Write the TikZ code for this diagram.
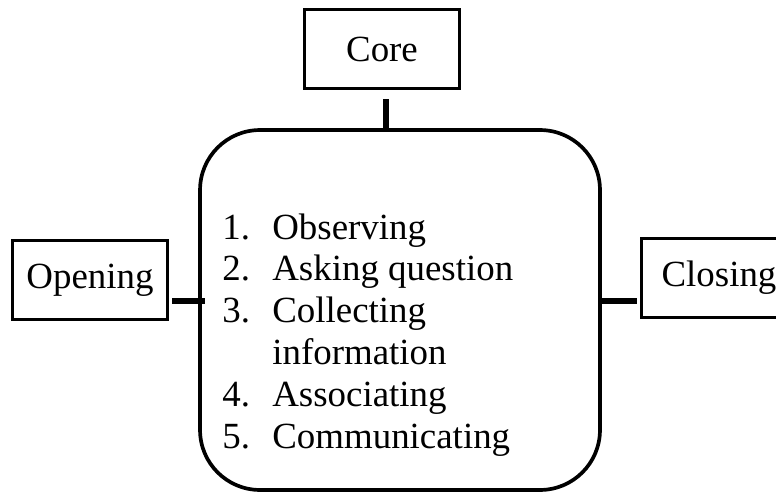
\documentclass[tikz,border=0pt]{standalone}
\usepackage{fontspec}
\setmainfont{Liberation Serif}
\begin{document}
\begin{tikzpicture}[x=0.02cm, y=-0.02cm,
	stage/.style={draw, line width=2.1pt, inner sep=0pt, minimum width=3.1cm, minimum height=1.58cm, font=\fontsize{21}{25}\selectfont},
	steps/.style={draw, line width=2.1pt, rounded corners=1.2cm, minimum width=8cm, minimum height=7.2cm},
	link/.style={line width=3.3pt},
	item/.style={anchor=base west, inner sep=0pt, font=\fontsize{21}{25}\selectfont}]
\clip (0,0) rectangle (776,493);
\node [steps] (steps) at (400,310) {};
\node [stage] (core) at (382,49) {Core};
\node [stage] (opening) at (90,280) {Opening};
\node [stage] (closing) at (719,278) {Closing};
\foreach \n/\t [count=\i] in {1./Observing, 2./Asking question, 3./Collecting, /information, 4./Associating, 5./Communicating}{
	\node [item] (num\i) at (222,{239+41.8*(\i-1)}) {\n};
	\node [item] (text\i) at (272,{239+41.8*(\i-1)}) {\t};
}
\draw [link, shorten <=0.18cm, shorten >=-0.08cm] ([xshift=0.08cm]core.south) -- ([xshift=0.08cm]core.south |- steps.north);
\draw [link, shorten <=0.06cm, shorten >=-0.14cm] ([yshift=-0.42cm]opening.east) -- ([yshift=-0.42cm]opening.east -| steps.west);
\draw [link, shorten <=0.06cm] ([yshift=-0.46cm]closing.west) -- ([yshift=-0.46cm]closing.west -| steps.east);
\end{tikzpicture}
\end{document}
